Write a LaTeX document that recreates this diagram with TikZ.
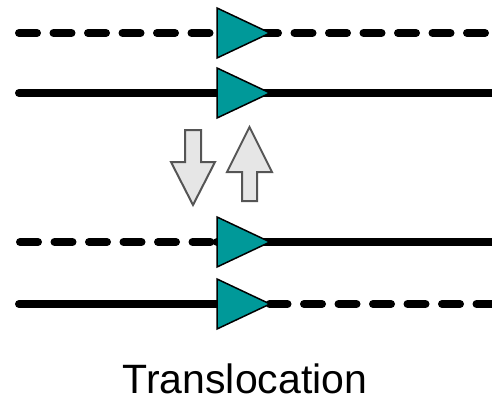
\documentclass[tikz,border=0pt]{standalone}
\usepackage{fontspec}
\setmainfont{Liberation Sans}
\definecolor{segteal}{RGB}{0,153,153}
\definecolor{arrowfill}{RGB}{230,230,230}
\definecolor{arrowedge}{RGB}{85,85,85}
\tikzset{
  chrom/.style={line width=8pt, line cap=round},
  chromdash/.style={chrom, dash pattern=on 18pt off 16.5pt},
  segment/.style={fill=segteal, draw=black, line width=1.5pt, line join=miter},
  swaparrow/.style={fill=arrowfill, draw=arrowedge, line width=2pt, line join=miter}
}
\begin{document}
\begin{tikzpicture}[x=1pt, y=-1pt]
\useasboundingbox (0,0) rectangle (492,401);

%Breakpoints
\path (217,33) coordinate (b1);
\path (217,93) coordinate (b2);
\path (217,242) coordinate (b3);
\path (217,304) coordinate (b4);

%Before
\draw[chromdash] (19,33) -- (b1);
\draw[chromdash] (260,33) -- (496,33);
\draw[chrom] (19,93) -- (b2);
\draw[chrom] (b2) -- (496,93);

%After
\draw[chromdash] (20,242) -- (b3);
\draw[chrom] (b3) -- (496,242);
\draw[chrom] (19,304) -- (b4);
\draw[chromdash] (269.5,304) -- (496,304);

%Triangles
\filldraw[segment] (b1) -- ++(0,-25) -- ++(53,25) -- ++(-53,25) -- cycle;
\filldraw[segment] (b2) -- ++(0,-25) -- ++(53,25) -- ++(-53,25) -- cycle;
\filldraw[segment] (b3) -- ++(0,-25) -- ++(53,25) -- ++(-53,25) -- cycle;
\filldraw[segment] (b4) -- ++(0,-25) -- ++(53,25) -- ++(-53,25) -- cycle;

%Arrows
\path (193,205) coordinate (down);
\path (249.5,127) coordinate (up);
\filldraw[swaparrow] (down) -- ++(-22,-43) -- ++(14,0) -- ++(0,-32) -- ++(16,0)
  -- ++(0,32) -- ++(14,0) -- cycle;
\filldraw[swaparrow] (up) -- ++(-22.5,45) -- ++(15,0) -- ++(0,29) -- ++(15,0)
  -- ++(0,-29) -- ++(15,0) -- cycle;

%Label
\node[anchor=base, inner sep=0pt, text depth=0pt, font=\fontsize{41}{49}\selectfont] (title) at (245,393) {Translocation};

\end{tikzpicture}
\end{document}
